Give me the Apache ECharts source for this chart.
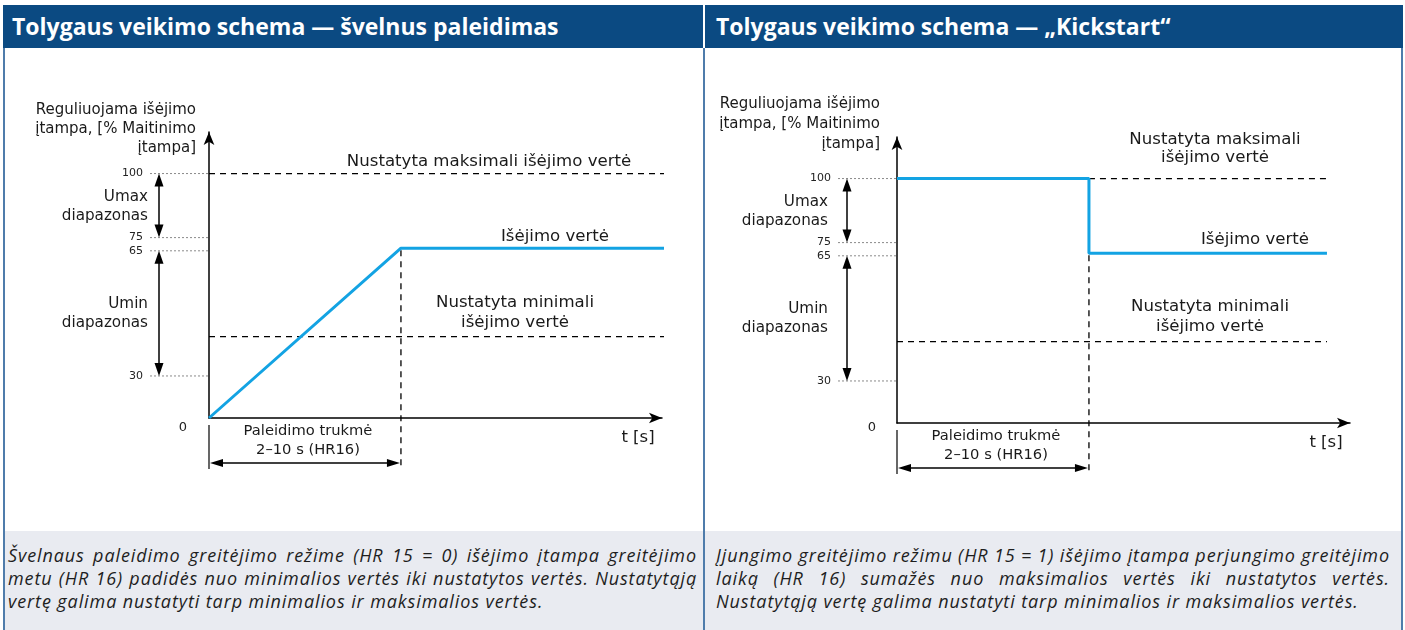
<!DOCTYPE html>
<html><head><meta charset="utf-8">
<script src="https://cdn.jsdelivr.net/npm/echarts@6/dist/echarts.min.js"></script>
<style>
html,body{margin:0;padding:0;background:#fff;width:1405px;height:630px;overflow:hidden;}
#chart{position:absolute;left:0;top:0;width:1405px;height:630px;}
.hdr{position:absolute;top:5px;height:43px;background:#0b4a82;color:#fff;font-family:'Open Sans',sans-serif;font-weight:700;font-size:23px;line-height:43px;box-sizing:border-box;white-space:nowrap;}
.cap{position:absolute;top:531px;height:99px;background:#e9ebf1;font-family:'Open Sans',sans-serif;font-style:italic;font-size:18px;letter-spacing:0.9px;color:#1e1e1e;box-sizing:border-box;line-height:23px;padding-top:13px;}
.cap div{white-space:nowrap;}
.vb{position:absolute;top:48px;height:582px;width:2px;background:#4f7cab;}
</style></head>
<body>
<div id="chart"></div>
<div class="hdr" style="left:3px;width:700px;padding-left:9px;">Tolygaus veikimo schema — švelnus paleidimas</div>
<div class="hdr" style="left:705px;width:698px;padding-left:11px;">Tolygaus veikimo schema — „Kickstart“</div>
<div class="vb" style="left:3px"></div>
<div class="vb" style="left:703px"></div>
<div class="vb" style="left:1401px"></div>
<div class="cap" id="capL" style="left:5px;width:698px;padding-left:3px;padding-right:6px;">
<div class="j"><span>Švelnaus paleidimo greitėjimo režime (HR 15 = 0) išėjimo įtampa greitėjimo</span></div>
<div class="j"><span>metu (HR 16) padidės nuo minimalios vertės iki nustatytos vertės. Nustatytąją</span></div>
<div><span>vertę galima nustatyti tarp minimalios ir maksimalios vertės.</span></div>
</div>
<div class="cap" id="capR" style="left:705px;width:696px;padding-left:11px;padding-right:11px;">
<div class="j"><span>Įjungimo greitėjimo režimu (HR 15 = 1) išėjimo įtampa perjungimo greitėjimo</span></div>
<div class="j"><span>laiką (HR 16) sumažės nuo maksimalios vertės iki nustatytos vertės.</span></div>
<div><span>Nustatytąją vertę galima nustatyti tarp minimalios ir maksimalios vertės.</span></div>
</div>
<script>
// justify caption lines to the box width
document.querySelectorAll('.cap div.j').forEach(d => {
  const span = d.querySelector('span');
  const target = d.clientWidth;
  const natural = span.getBoundingClientRect().width;
  const gaps = (span.textContent.match(/ /g) || []).length;
  if (gaps > 0) d.style.wordSpacing = ((target - natural) / gaps) + 'px';
});

// ---- data ----
const tickValues = [100, 75, 65, 30];
const tickLabels = ['100', '75', '65', '30'];
const rampEnd = 10;                 // end of start-up time (schematic t)
const maxSetpoint = 100;
const minSetpoint = 41;
const softTime = [0, 10, 23.9];
const softOutput = [0, 67, 67];
const kickTime = [0, 10, 10, 22.4];
const kickOutput = [100, 100, 67, 67];
const softMaxTime = [0, 23.9];
const softMinTime = [0, 23.9];
const kickMaxTime = [10, 22.4];
const kickMinTime = [0, 22.4];

// ---- schematic (non-linear) vertical layout ----
const levelValues = [0, 30, 65, 75, 100];
const levelPos = [0, 17.2, 68.4, 73.8, 100];
function ySch(v) {
  for (let i = 1; i < levelValues.length; i++) {
    if (v <= levelValues[i]) {
      const a = levelValues[i - 1], b = levelValues[i];
      return levelPos[i - 1] + (v - a) / (b - a) * (levelPos[i] - levelPos[i - 1]);
    }
  }
  return levelPos[levelPos.length - 1];
}
const pts = (ts, vs) => ts.map((t, i) => [t, ySch(vs[i])]);
const flat = (ts, v) => ts.map(t => [t, ySch(v)]);

const BLUE = '#13a3e3';
const TXT = '#1a1a1a';
const FONT = 'DejaVu Sans';

const chart = echarts.init(document.getElementById('chart'), null, {renderer: 'canvas'});

function axisPair(i) {
  const common = {show: true, lineStyle: {color: '#000', width: 1.5}, symbol: ['none', 'arrow'], symbolSize: [8, 13]};
  return {
    x: {type: 'value', gridIndex: i, min: 0, max: 23.6, axisLine: common, axisTick: {show: false}, axisLabel: {show: false}, splitLine: {show: false}},
    y: {type: 'value', gridIndex: i, min: 0, max: 117, axisLine: common, axisTick: {show: false}, axisLabel: {show: false}, splitLine: {show: false}}
  };
}
const a0 = axisPair(0), a1 = axisPair(1);
const dashed = {color: '#000', width: 1.3, type: [6, 5]};
function dl(idx, data) {
  return {type: 'line', xAxisIndex: idx, yAxisIndex: idx, data, symbol: 'none', clip: false, lineStyle: dashed, z: 2, silent: true};
}
function bl(idx, data) {
  return {type: 'line', xAxisIndex: idx, yAxisIndex: idx, data, symbol: 'none', clip: false, lineStyle: {color: BLUE, width: 3}, z: 3, silent: true};
}

chart.setOption({
  animation: false,
  grid: [
    {left: 209, top: 132, width: 453, height: 286},
    {left: 897, top: 137, width: 453, height: 286}
  ],
  xAxis: [a0.x, a1.x],
  yAxis: [a0.y, a1.y],
  series: [
    dl(0, flat(softMaxTime, maxSetpoint)),
    dl(0, flat(softMinTime, minSetpoint)),
    bl(0, pts(softTime, softOutput)),
    dl(1, flat(kickMaxTime, maxSetpoint)),
    dl(1, flat(kickMinTime, minSetpoint)),
    bl(1, pts(kickTime, kickOutput))
  ]
});

// ---- annotations ----
const layouts = [
  {axisTitle: {x: 196, ys: [110, 129, 148]}, rangeRight: 148,
   maxLabel: {lines: ['Nustatyta maksimali išėjimo vertė'], x: 489, ys: [162]},
   outLabel: {x: 555, y: 237}, minLabel: {x: 515, ys: [303, 323]}, zero: {x: 183, y: 428}, plateau: 67},
  {axisTitle: {x: 880, ys: [104, 124, 144]}, rangeRight: 828,
   maxLabel: {lines: ['Nustatyta maksimali', 'išėjimo vertė'], x: 1215, ys: [140, 158]},
   outLabel: {x: 1255, y: 240}, minLabel: {x: 1210, ys: [307, 327]}, zero: {x: 872, y: 428}, plateau: 67}
];
const g = [];
function L(x1, y1, x2, y2, st) { g.push({type: 'line', silent: true, shape: {x1, y1, x2, y2}, style: Object.assign({stroke: '#000', lineWidth: 1.5}, st || {})}); }
function T(x, y, text, align, size, color) {
  g.push({type: 'text', silent: true, x, y, style: {text, fill: color || TXT, fontSize: size || 14, fontFamily: FONT, align: align || 'center', verticalAlign: 'middle'}});
}
function H(x, y, dir, len, hw) {
  let p;
  if (dir === 'up') p = [[x, y], [x - hw, y + len], [x + hw, y + len]];
  else if (dir === 'down') p = [[x, y], [x - hw, y - len], [x + hw, y - len]];
  else if (dir === 'left') p = [[x, y], [x + len, y - hw], [x + len, y + hw]];
  else p = [[x, y], [x - len, y - hw], [x - len, y + hw]];
  g.push({type: 'polygon', silent: true, shape: {points: p}, style: {fill: '#000'}});
}
function vArrow(x, y1, y2) { L(x, y1 + 10, x, y2 - 10, {lineWidth: 1.5}); H(x, y1, 'up', 13, 4.5); H(x, y2, 'down', 13, 4.5); }

[0, 1].forEach(i => {
  const lay = layouts[i];
  const px = (t, v) => chart.convertToPixel({gridIndex: i}, [t, ySch(v)]);
  const o = px(0, 0);
  const ox = o[0], oy = o[1];
  const end = chart.convertToPixel({gridIndex: i}, [23.6, 0])[0];
  const rx = px(rampEnd, 0)[0];
  tickValues.forEach((v, k) => {
    const y = px(0, v)[1];
    L(ox - 59, y, ox, y, {stroke: '#8a8a8a', lineWidth: 1, lineDash: [2, 2]});
    T(ox - 66, y, tickLabels[k], 'right', 11, '#222');
  });
  T(lay.zero.x, lay.zero.y, '0', 'center', 13, '#222');
  const y100 = px(0, 100)[1], y75 = px(0, 75)[1], y65 = px(0, 65)[1], y30 = px(0, 30)[1];
  vArrow(ox - 50, y100, y75);
  vArrow(ox - 50, y65, y30);
  const mU = (y100 + y75) / 2, mL = (y65 + y30) / 2;
  T(lay.rangeRight, mU - 9, 'Umax', 'right', 15.2);
  T(lay.rangeRight, mU + 10, 'diapazonas', 'right', 15.2);
  T(lay.rangeRight, mL - 9, 'Umin', 'right', 15.2);
  T(lay.rangeRight, mL + 10, 'diapazonas', 'right', 15.2);
  ['Reguliuojama išėjimo', 'įtampa, [% Maitinimo', 'įtampa]'].forEach((s, k) => T(lay.axisTitle.x, lay.axisTitle.ys[k], s, 'right', 15));
  const yp = px(rampEnd, lay.plateau)[1];
  L(rx, yp + 2, rx, oy + 51, {lineWidth: 1.3, lineDash: [6, 5]});
  L(ox, oy + 7, ox, oy + 51, {lineWidth: 1.2});
  L(ox + 10, oy + 45, rx - 10, oy + 45, {lineWidth: 1.5});
  H(ox + 1, oy + 45, 'left', 13, 4); H(rx - 1, oy + 45, 'right', 13, 4);
  T((ox + rx) / 2 + 3, oy + 13, 'Paleidimo trukmė', 'center', 14.7);
  T((ox + rx) / 2 + 3, oy + 32, '2–10 s (HR16)', 'center', 14.7);
  T(end - 24, oy + 20, 't [s]', 'center', 16.5);
  lay.maxLabel.lines.forEach((s, k) => T(lay.maxLabel.x, lay.maxLabel.ys[k], s, 'center', 16.6));
  T(lay.outLabel.x, lay.outLabel.y, 'Išėjimo vertė', 'center', 16.6);
  ['Nustatyta minimali', 'išėjimo vertė'].forEach((s, k) => T(lay.minLabel.x, lay.minLabel.ys[k], s, 'center', 16.6));
});
chart.setOption({graphic: g});
</script>
</body></html>
